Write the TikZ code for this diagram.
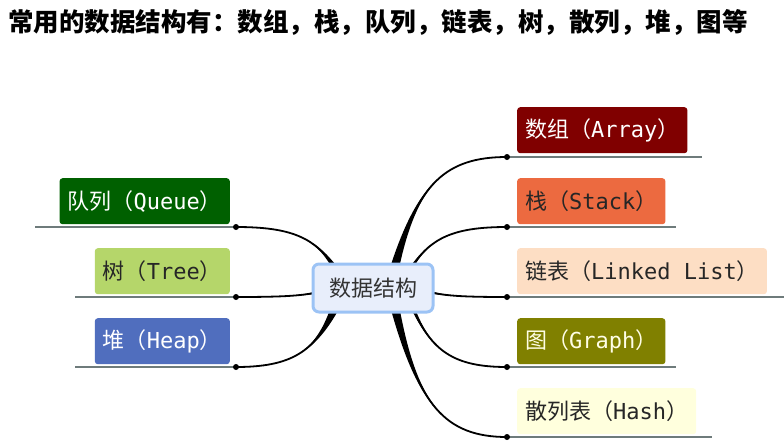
\documentclass[tikz,border=0pt]{standalone}
\usepackage{fontspec}
\usetikzlibrary{calc}
\setmainfont{Noto Sans CJK SC}
\newfontfamily\mono{DejaVu Sans Mono}
\definecolor{cbor}{HTML}{9CC3F5}
\definecolor{cfill}{HTML}{E8EEFB}
\definecolor{ul}{HTML}{6E7B7B}
\newcommand\mybranch[3]{%
 \coordinate (ca) at ($(#1)!.2!(#2)$); \coordinate (cb) at ($(#1)!.75!(#2)$);
 \coordinate (cc) at ($(#1)!.45!(#2)$);
 \coordinate (c1) at (ca |- cb); \coordinate (c2) at (cc |- #2);
 \fill ($(#1)+#3$) .. controls (c1) and (c2) .. (#2) .. controls (c2) and (c1) .. ($(#1)-#3$) -- cycle;
 \draw[line width=1.8pt] (#1) .. controls (c1) and (c2) .. (#2);}
\begin{document}
\begin{tikzpicture}[x=1pt,y=-1pt,
  lab/.style={rounded corners=3pt,minimum height=46pt,inner xsep=8pt,font=\fontsize{22}{25}\selectfont,text=black!85},
  und/.style={draw=ul,line width=1.6pt},
  dot/.style={circle,fill=black,inner sep=0pt,minimum size=6pt}]
\useasboundingbox (0,0) rectangle (784,445);
\node[anchor=west,font=\fontsize{25.5}{28}\selectfont\bfseries,inner sep=0pt] (title) at (8,22) {常用的数据结构有：数组，栈，队列，链表，树，散列，堆，图等};
% right labels
\node[lab,anchor=north west,fill={rgb,255:red,128;green,0;blue,0},text=white] (arr) at (517,107) {数组（{\mono Array}）};
\node[lab,anchor=north west,fill={rgb,255:red,236;green,106;blue,64}] (stk) at (517,178) {栈（{\mono Stack}）};
\node[lab,anchor=north west,fill={rgb,255:red,253;green,222;blue,196}] (lnk) at (517,248) {链表（{\mono Linked List}）};
\node[lab,anchor=north west,fill={rgb,255:red,128;green,128;blue,0},text=white!90!yellow] (gra) at (517,318) {图（{\mono Graph}）};
\node[lab,anchor=north west,fill={rgb,255:red,255;green,255;blue,221}] (hsh) at (517,388) {散列表（{\mono Hash}）};
% left labels
\node[lab,anchor=north east,fill={rgb,255:red,0;green,96;blue,0},text=white] (que) at (230,178) {队列（{\mono Queue}）};
\node[lab,anchor=north east,fill={rgb,255:red,181;green,214;blue,106}] (tre) at (230,248) {树（{\mono Tree}）};
\node[lab,anchor=north east,fill={rgb,255:red,80;green,110;blue,190},text=white] (hep) at (230,318) {堆（{\mono Heap}）};
% dots
\coordinate (dA) at (507,157); \coordinate (dS) at (507,227); \coordinate (dL) at (507,297);
\coordinate (dG) at (507,367); \coordinate (dH) at (507,437);
\coordinate (dQ) at (236,227); \coordinate (dT) at (236,297); \coordinate (dP) at (236,367);
\draw[und] (dA) -- (702,157); \draw[und] (dS) -- (676,227); \draw[und] (dL) -- (784,297);
\draw[und] (dG) -- (676,367); \draw[und] (dH) -- (712,437);
\draw[und] (35,227) -- (dQ); \draw[und] (75,297) -- (dT); \draw[und] (75,367) -- (dP);
% branches
\coordinate (sA) at (395,266); \coordinate (sS) at (410,270); \coordinate (sL) at (434,293);
\coordinate (sG) at (412,306); \coordinate (sH) at (395,308);
\coordinate (sQ) at (335,268); \coordinate (sT) at (314,293); \coordinate (sP) at (335,308);
\mybranch{sA}{dA}{(4.5,0)} \mybranch{sS}{dS}{(2,0)} \mybranch{sL}{dL}{(0,1)}
\mybranch{sG}{dG}{(2,0)} \mybranch{sH}{dH}{(4.5,0)}
\mybranch{sQ}{dQ}{(3,0)} \mybranch{sT}{dT}{(0,1)} \mybranch{sP}{dP}{(4.5,0)}
\foreach \d in {dA,dS,dL,dG,dH,dQ,dT,dP} \node[dot] at (\d) {};
\node[draw=cbor,fill=cfill,line width=3pt,rounded corners=6pt,minimum width=120pt,minimum height=48pt,font=\fontsize{22}{25}\selectfont,text=black!80] (ctr) at (373,288) {数据结构};
\end{tikzpicture}
\end{document}
